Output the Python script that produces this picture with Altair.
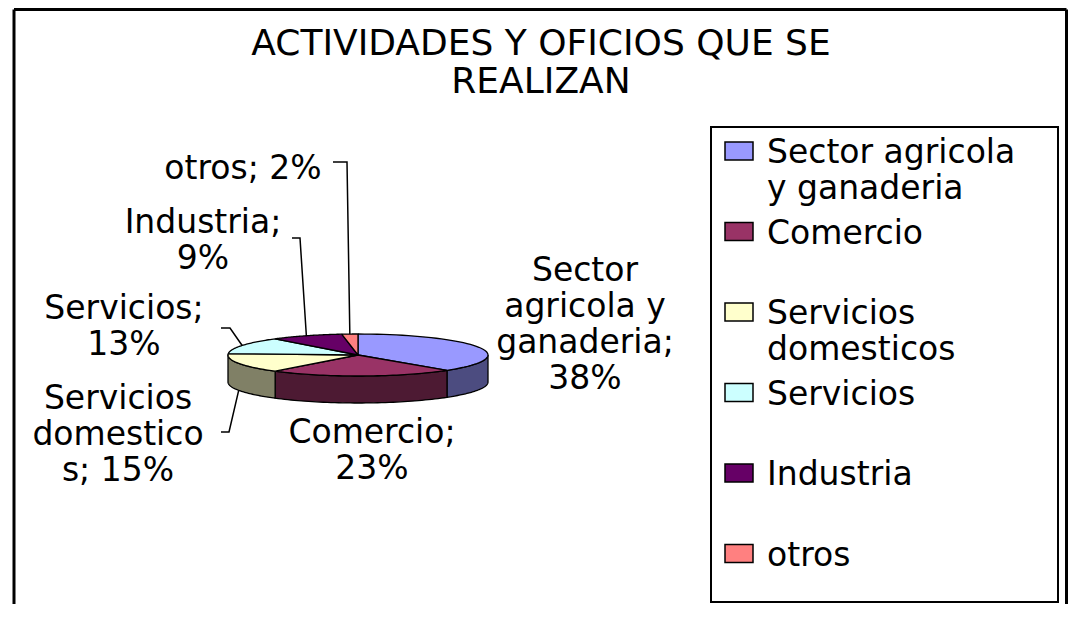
import altair as alt
import pandas as pd

# ---------------- data ----------------
categories = ["Sector agricola y ganaderia", "Comercio", "Servicios domesticos",
              "Servicios", "Industria", "otros"]
values = [38, 23, 15, 13, 9, 2]
# label text as wrapped in the picture ("|" = line break)
label_names = ["Sector|agricola y|ganaderia", "Comercio", "Servicios|domestico|s",
               "Servicios", "Industria", "otros"]
label_seps = ["|", "|", " ", "|", "|", " "]
legend_names = ["Sector agricola|y ganaderia", "Comercio", "Servicios|domesticos",
                "Servicios", "Industria", "otros"]
title_text = "ACTIVIDADES Y OFICIOS QUE SE|REALIZAN"

# ---------------- style / layout ----------------
top_colors = ["#9999FF", "#993366", "#FFFFCC", "#CCFFFF", "#660066", "#FF8080"]
side_colors = ["#4C4C80", "#4D1A33", "#808066", "#668080", "#330033", "#804040"]
FONT = "DejaVu Sans"
FS = 33
W, H = 1060, 596                     # plot area (page pixels 8..1068, 8..604)
CX, CY, RX, RY, DEPTH = 358, 355, 130, 21, 27
N = 48
label_x = [585, 372, 118, 124, 203, 243]
label_y = [271, 433, 399, 309, 223, 169]     # first-line centres
leader_end_x = [None, None, 221, 221, 292, 333]
leader_elbow_x = [None, None, 229, 230, 300, 347]
leader_y = [None, None, 432, 328, 238, 162]
LEG_Y0, LEG_STEP = 151, 80.5

label_text = [f"{n};{s}{v}%" for n, s, v in zip(label_names, label_seps, values)]

df = pd.DataFrame({
    "category": categories,
    "value": values,
    "idx": list(range(len(categories))),
    "label": label_text,
    "legend": legend_names,
    "lx": label_x,
    "ly": label_y,
    "lend": [float("nan") if v is None else v for v in leader_end_x],
    "lelb": [float("nan") if v is None else v for v in leader_elbow_x],
    "lyy": [float("nan") if v is None else v for v in leader_y],
})

xs = alt.Scale(domain=[8, 8 + W], nice=False, zero=False)
ys = alt.Scale(domain=[8, 8 + H], nice=False, zero=False, reverse=True)


def X(f):
    return alt.X(f"{f}:Q", scale=xs, axis=None)


def Y(f):
    return alt.Y(f"{f}:Q", scale=ys, axis=None)


top_fill = alt.Fill("category:N", scale=alt.Scale(domain=categories, range=top_colors), legend=None)
side_fill = alt.Fill("category:N", scale=alt.Scale(domain=categories, range=side_colors), legend=None)

base = (
    alt.Chart(df)
    .transform_window(cum="sum(value)", sort=[alt.SortField("idx", order="ascending")], frame=[None, 0])
    .transform_joinaggregate(total="sum(value)")
    .transform_calculate(
        a0="2*PI*(datum.cum-datum.value)/datum.total",
        a1="2*PI*datum.cum/datum.total",
    )
)

# side walls (front half of the tilted pie)
sides = (
    base.transform_calculate(b0="max(datum.a0, PI/2)", b1="min(datum.a1, 3*PI/2)")
    .transform_filter("datum.b1 > datum.b0")
    .transform_calculate(k=f"sequence(0, {2 * N + 3})")
    .transform_flatten(["k"])
    .transform_calculate(
        t=f"datum.k <= {N} ? datum.k/{N} : (datum.k <= {2 * N + 1} ? ({2 * N + 1} - datum.k)/{N} : 0)",
        bot=f"(datum.k > {N} && datum.k <= {2 * N + 1}) ? 1 : 0",
    )
    .transform_calculate(ang="datum.b0 + (datum.b1 - datum.b0)*datum.t")
    .transform_calculate(
        px=f"{CX} + {RX}*sin(datum.ang)",
        py=f"{CY} - {RY}*cos(datum.ang) + datum.bot*{DEPTH}",
    )
    .mark_line(stroke="black", strokeWidth=1.3, strokeJoin="round")
    .encode(x=X("px"), y=Y("py"), fill=side_fill, detail="category:N", order=alt.Order("k:Q"))
)

# top faces
tops = (
    base.transform_calculate(k=f"sequence(0, {N + 3})")
    .transform_flatten(["k"])
    .transform_calculate(ang=f"datum.a0 + (datum.a1 - datum.a0)*(datum.k <= {N} ? datum.k/{N} : 0)")
    .transform_calculate(
        px=f"datum.k == {N + 1} ? {CX} : {CX} + {RX}*sin(datum.ang)",
        py=f"datum.k == {N + 1} ? {CY} : {CY} - {RY}*cos(datum.ang)",
    )
    .mark_line(stroke="black", strokeWidth=1.3, strokeJoin="round")
    .encode(x=X("px"), y=Y("py"), fill=top_fill, detail="category:N", order=alt.Order("k:Q"))
)

# leader lines
leaders = (
    base.transform_filter("isValid(datum.lyy)")
    .transform_calculate(mid="(datum.a0 + datum.a1)/2")
    .transform_calculate(
        ax=f"{CX} + {RX}*sin(datum.mid)",
        ay=f"{CY} - {RY}*cos(datum.mid) + (cos(datum.mid) < 0 ? {DEPTH} : 0)",
    )
    .transform_calculate(k="sequence(0, 3)")
    .transform_flatten(["k"])
    .transform_calculate(
        px="datum.k == 0 ? datum.lend : (datum.k == 1 ? datum.lelb : datum.ax)",
        py="datum.k < 2 ? datum.lyy : datum.ay",
    )
    .mark_line(color="black", strokeWidth=1.5)
    .encode(x=X("px"), y=Y("py"), detail="category:N", order=alt.Order("k:Q"))
)

labels = (
    alt.Chart(df)
    .mark_text(font=FONT, fontSize=FS, lineBreak="|", lineHeight=36, align="center",
               baseline="middle", color="black")
    .encode(x=X("lx"), y=Y("ly"), text="label:N")
)

# legend
frame_df = pd.DataFrame({"x0": [711], "x1": [1058], "y0": [127], "y1": [602]})
legend_frame = (
    alt.Chart(frame_df)
    .mark_rect(fill="white", stroke="black", strokeWidth=2)
    .encode(x=X("x0"), x2="x1", y=Y("y0"), y2="y1")
)
leg_base = alt.Chart(df).transform_calculate(sy=f"{LEG_Y0} + datum.idx*{LEG_STEP}")
swatches = (
    leg_base.transform_calculate(sx0="725", sx1="753", sy0="datum.sy - 9", sy1="datum.sy + 9")
    .mark_rect(stroke="black", strokeWidth=1.5)
    .encode(x=X("sx0"), x2="sx1", y=Y("sy0"), y2="sy1", fill=top_fill)
)
legend_text = (
    leg_base.transform_calculate(tx="767", ty="datum.sy - 14")
    .mark_text(font=FONT, fontSize=FS, lineBreak="|", lineHeight=36, align="left",
               baseline="top", color="black")
    .encode(x=X("tx"), y=Y("ty"), text="legend:N")
)

# title
title_df = pd.DataFrame({"t": [title_text], "x": [541], "y": [44]})
title = (
    alt.Chart(title_df)
    .mark_text(font=FONT, fontSize=36, lineBreak="|", lineHeight=38, align="center",
               baseline="middle", color="black")
    .encode(x=X("x"), y=Y("y"), text="t:N")
)

# outer frame (bottom edge lies below the window)
border_df = pd.DataFrame({"x0": [14, 14, 1066.5], "x1": [1066.5, 14, 1066.5],
                          "y0": [9.5, 9.5, 9.5], "y1": [9.5, 620, 620]})
border = (
    alt.Chart(border_df)
    .mark_rule(color="black", strokeWidth=3)
    .encode(x=X("x0"), x2="x1", y=Y("y0"), y2="y1")
)

chart = (
    alt.layer(sides, tops, leaders, labels, legend_frame, swatches, legend_text, title, border)
    .resolve_scale(fill="independent")
    .properties(width=W, height=H, padding=0, autosize=alt.AutoSizeParams(type="none"),
                background="white")
    .configure_view(stroke=None)
)

chart.save("out.html", embed_options={"renderer": "svg", "actions": False})
